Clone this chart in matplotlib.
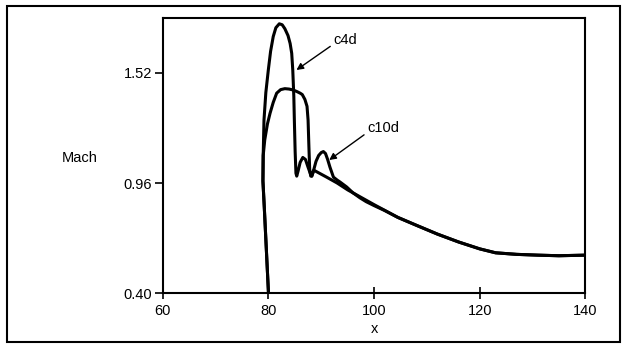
import matplotlib
matplotlib.use('Agg')
import matplotlib.pyplot as plt
from matplotlib.patches import Rectangle

plt.rcParams['font.family'] = ['Liberation Sans', 'DejaVu Sans']

# Data
c4d_x = [80.0, 79.6, 79.2, 78.95, 79.0, 79.15, 79.5, 79.97, 80.4, 80.9, 81.4, 82.05,
         82.6, 83.1, 83.7, 84.1, 84.4, 84.6, 84.8, 84.9, 85.05, 85.2, 85.35, 85.6,
         86.0, 86.5, 87.0, 87.5, 87.9, 88.2, 88.6, 91.0, 93.0, 95.0, 97.0, 100.0,
         104.5, 108.0, 112.0, 116.0, 120.0, 123.0, 127.0, 131.0, 135.0, 140.0]
c4d_y = [0.40, 0.62, 0.84, 0.97, 1.10, 1.28, 1.42, 1.535, 1.63, 1.705, 1.75, 1.77,
         1.765, 1.745, 1.71, 1.67, 1.62, 1.535, 1.40, 1.28, 1.12, 1.01, 0.995, 1.02,
         1.065, 1.09, 1.08, 1.04, 1.01, 0.995, 1.025, 0.99, 0.96, 0.925, 0.895, 0.85,
         0.785, 0.745, 0.70, 0.66, 0.625, 0.605, 0.597, 0.593, 0.59, 0.593]

c10d_x = [80.0, 79.6, 79.2, 78.95, 79.0, 79.3, 79.8, 80.3, 80.9, 81.55, 82.3, 83.1,
          83.9, 84.7, 85.4, 86.0, 86.4, 86.9, 87.3, 87.5, 87.65, 87.8, 88.0, 88.2,
          88.6, 89.0, 89.5, 90.0, 90.4, 90.8, 91.2, 91.65, 92.3, 93.0, 93.55, 94.8,
          96.0, 97.3, 98.5, 100.0, 102.0, 104.5, 108.0, 112.0, 116.0, 120.0, 123.0,
          127.0, 131.0, 135.0, 140.0]
c10d_y = [0.40, 0.62, 0.84, 0.97, 1.10, 1.18, 1.26, 1.315, 1.37, 1.417, 1.435, 1.44,
          1.438, 1.433, 1.425, 1.417, 1.41, 1.385, 1.35, 1.28, 1.15, 1.03, 0.995, 0.995,
          1.03, 1.07, 1.10, 1.115, 1.12, 1.11, 1.08, 1.04, 0.99, 0.975, 0.965, 0.94,
          0.91, 0.885, 0.865, 0.845, 0.82, 0.785, 0.745, 0.70, 0.66, 0.625, 0.605,
          0.597, 0.593, 0.59, 0.593]

x_ticks = [60, 80, 100, 120, 140]
y_ticks = [0.40, 0.96, 1.52]

fig = plt.figure(figsize=(6.24, 3.44), dpi=100)
ax = fig.add_axes([0.261, 0.148, 0.677, 0.8])

ax.plot(c4d_x, c4d_y, color='black', lw=2.2, solid_joinstyle='round')
ax.plot(c10d_x, c10d_y, color='black', lw=2.2, solid_joinstyle='round')

ax.set_xlim(60, 140)
ax.set_ylim(0.40, 1.80)
ax.set_xticks(x_ticks)
ax.set_yticks(y_ticks)
ax.set_yticklabels(['%.2f' % v for v in y_ticks])
ax.tick_params(axis='x', direction='inout', length=8, width=1.2, labelsize=10.5, pad=4)
ax.tick_params(axis='y', direction='out', length=6, width=1.2, labelsize=10.5, pad=2)
for s in ax.spines.values():
    s.set_linewidth(1.5)

ax.set_xlabel('x', fontsize=10.5, labelpad=3)
fig.text(80 / 624, 1 - 158 / 344, 'Mach', fontsize=10.5, ha='center', va='center')

# Curve annotations
arrow = dict(arrowstyle='-|>', color='black', lw=1.0, mutation_scale=10,
             shrinkA=0, shrinkB=0)
ax.annotate('', xy=(85.3, 1.535), xytext=(91.7, 1.655), arrowprops=arrow)
ax.text(92.3, 1.69, 'c4d', fontsize=10.5, va='center', ha='left')
ax.annotate('', xy=(91.5, 1.077), xytext=(98.1, 1.205), arrowprops=arrow)
ax.text(98.7, 1.24, 'c10d', fontsize=10.5, va='center', ha='left')

# Outer frame around the whole figure
fig.patches.append(Rectangle((0.012, 0.006), 0.982, 0.978, transform=fig.transFigure,
                             fill=False, edgecolor='black', lw=1.5))

fig.savefig('out.png', dpi=100)
